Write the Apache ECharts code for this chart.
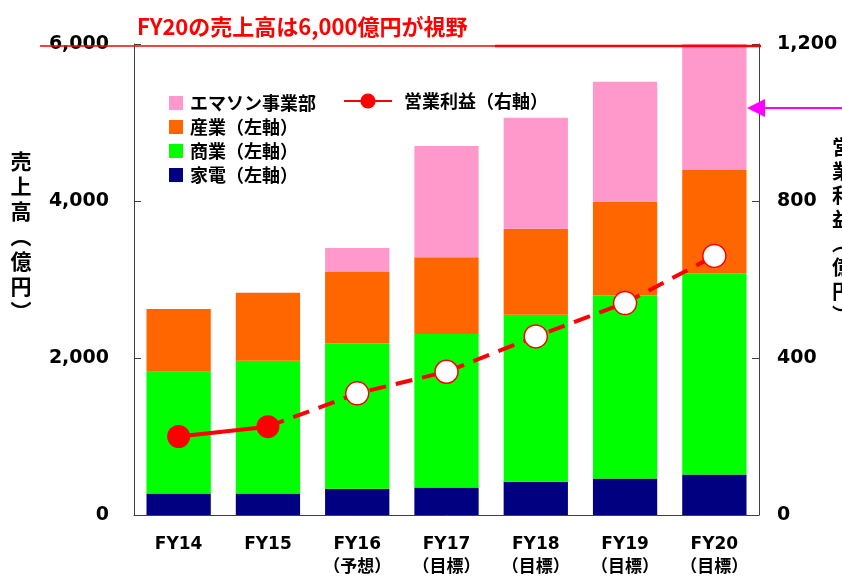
<!DOCTYPE html>
<html>
<head>
<meta charset="utf-8">
<script src="https://cdn.jsdelivr.net/npm/echarts@6/dist/echarts.min.js"></script>
<style>
  html, body { margin: 0; padding: 0; background: #fff; }
  #chart { width: 842px; height: 579px; }
</style>
</head>
<body>
<div id="chart"></div>
<script>
// 年度と注記
const years = ['FY14', 'FY15', 'FY16', 'FY17', 'FY18', 'FY19', 'FY20']
const yearNotes = ['', '', '（予想）', '（目標）', '（目標）', '（目標）', '（目標）']

// 売上高（億円）セグメント別
const kaden = [275, 275, 335, 350, 425, 465, 515]
const shogyo = [1550, 1690, 1850, 1955, 2125, 2330, 2560]
const sangyo = [800, 865, 910, 980, 1095, 1195, 1320]
const emerson = [null, null, 305, 1415, 1415, 1530, 1625]

// 営業利益（億円）
const profit = [200, 225, 310, 365, 455, 540, 660]
const actualCount = 2 // FY14, FY15 は実績

// 軸目盛
const salesTicks = [0, 2000, 4000, 6000]
const profitTicks = [0, 400, 800, 1200]

const LATIN = '"DejaVu Sans", "Noto Sans CJK JP", sans-serif'
const CJK = '"Noto Sans CJK JP", sans-serif'
const AXIS_COLOR = '#404040'

const profitActual = profit.map((v, i) => (i < actualCount ? v : null))
const profitPlan = profit.map((v, i) => {
  if (i < actualCount - 1) return null
  if (i === actualCount - 1) return { value: v, symbol: 'none' }
  return v
})

const chart = echarts.init(document.getElementById('chart'))

function valueAxis(ticks, margin) {
  return {
    type: 'value',
    min: ticks[0],
    max: ticks[ticks.length - 1],
    interval: ticks[1] - ticks[0],
    splitLine: { show: false },
    axisLine: { show: true, lineStyle: { color: AXIS_COLOR, width: 1 } },
    axisTick: { show: true, inside: true, length: 7, lineStyle: { color: AXIS_COLOR } },
    axisLabel: {
      margin: margin,
      color: '#000',
      fontFamily: LATIN,
      fontWeight: 'bold',
      fontSize: 19,
      formatter: (v) => v.toLocaleString('en-US'),
    },
  }
}

chart.setOption({
  animation: false,
  grid: { left: 134, right: 83, top: 44, bottom: 64 },
  legend: [
    {
      data: ['エマソン事業部', '産業（左軸）', '商業（左軸）', '家電（左軸）'],
      orient: 'vertical',
      left: 169,
      top: 94,
      padding: 0,
      itemWidth: 14,
      itemHeight: 14,
      itemGap: 6,
      icon: 'rect',
      textStyle: {
        fontFamily: CJK,
        fontWeight: 'bold',
        fontSize: 18,
        lineHeight: 18,
        color: '#000',
        padding: [0, 0, 0, 2],
      },
    },
    {
      data: ['営業利益（右軸）'],
      left: 343,
      top: 92,
      padding: 0,
      itemWidth: 48,
      itemHeight: 19,
      textStyle: {
        fontFamily: CJK,
        fontWeight: 'bold',
        fontSize: 18,
        lineHeight: 18,
        color: '#000',
        padding: [0, 0, 0, 7],
      },
    },
  ],
  xAxis: {
    type: 'category',
    data: years,
    axisLine: { lineStyle: { color: AXIS_COLOR, width: 1 } },
    axisTick: { inside: true, length: 6, lineStyle: { color: AXIS_COLOR } },
    axisLabel: {
      margin: 18,
      color: '#000',
      fontFamily: LATIN,
      fontWeight: 'bold',
      fontSize: 17,
      lineHeight: 23,
      formatter: (v, i) => (yearNotes[i] ? v + '\n' + yearNotes[i] : v),
    },
  },
  yAxis: [valueAxis(salesTicks, 25), valueAxis(profitTicks, 18)],
  series: [
    { name: '家電（左軸）', type: 'bar', stack: 'sales', barWidth: '72%', itemStyle: { color: '#000080' }, data: kaden },
    { name: '商業（左軸）', type: 'bar', stack: 'sales', itemStyle: { color: '#00FF00' }, data: shogyo },
    { name: '産業（左軸）', type: 'bar', stack: 'sales', itemStyle: { color: '#FF6600' }, data: sangyo },
    { name: 'エマソン事業部', type: 'bar', stack: 'sales', itemStyle: { color: '#FF99CC' }, data: emerson },
    {
      name: '営業利益（計画）',
      type: 'line',
      yAxisIndex: 1,
      symbol: 'circle',
      symbolSize: 23,
      lineStyle: { color: '#FF0000', width: 4, type: [17, 10] },
      itemStyle: { color: '#FFFFFF', borderColor: '#FF0000', borderWidth: 1.5 },
      data: profitPlan,
    },
    {
      name: '営業利益（右軸）',
      type: 'line',
      yAxisIndex: 1,
      symbol: 'circle',
      symbolSize: 23,
      lineStyle: { color: '#FF0000', width: 4 },
      itemStyle: { color: '#FF0000' },
      data: profitActual,
    },
  ],
})

// 6,000億円ラインの位置を軸から取得
const y6000 = chart.convertToPixel({ yAxisIndex: 0 }, salesTicks[salesTicks.length - 1])

chart.setOption({
  graphic: [
    {
      type: 'text',
      left: 137,
      top: 16,
      style: {
        text: 'FY20の売上高は6,000億円が視野',
        fill: '#FF0000',
        font: 'bold 22px "Noto Sans CJK JP", sans-serif',
      },
    },
    {
      type: 'line',
      shape: { x1: 40, y1: y6000 + 2, x2: 497, y2: y6000 + 2 },
      style: { stroke: '#FF0000', lineWidth: 1.5 },
      z: 10,
    },
    {
      type: 'line',
      shape: { x1: 495, y1: y6000 + 2, x2: 761, y2: y6000 + 2 },
      style: { stroke: '#FF0000', lineWidth: 2.5 },
      z: 10,
    },
    {
      type: 'text',
      x: 21,
      y: 236,
      style: {
        text: '売\n上\n高\n︵\n億\n円\n︶',
        fill: '#000',
        font: 'bold 21px "Noto Sans CJK JP", sans-serif',
        align: 'center',
        verticalAlign: 'middle',
        lineHeight: 25,
      },
    },
    {
      type: 'text',
      x: 842,
      y: 231,
      style: {
        text: '営\n業\n利\n益\n︵\n億\n円\n︶',
        fill: '#000',
        font: 'bold 20px "Noto Sans CJK JP", sans-serif',
        align: 'center',
        verticalAlign: 'middle',
        lineHeight: 24,
      },
    },
    {
      type: 'line',
      shape: { x1: 764, y1: 108, x2: 842, y2: 108 },
      style: { stroke: '#FF00FF', lineWidth: 2 },
    },
    {
      type: 'polygon',
      shape: { points: [[747, 108], [765, 99], [765, 117]] },
      style: { fill: '#FF00FF' },
      z: 10,
    },
  ],
})
</script>
</body>
</html>
